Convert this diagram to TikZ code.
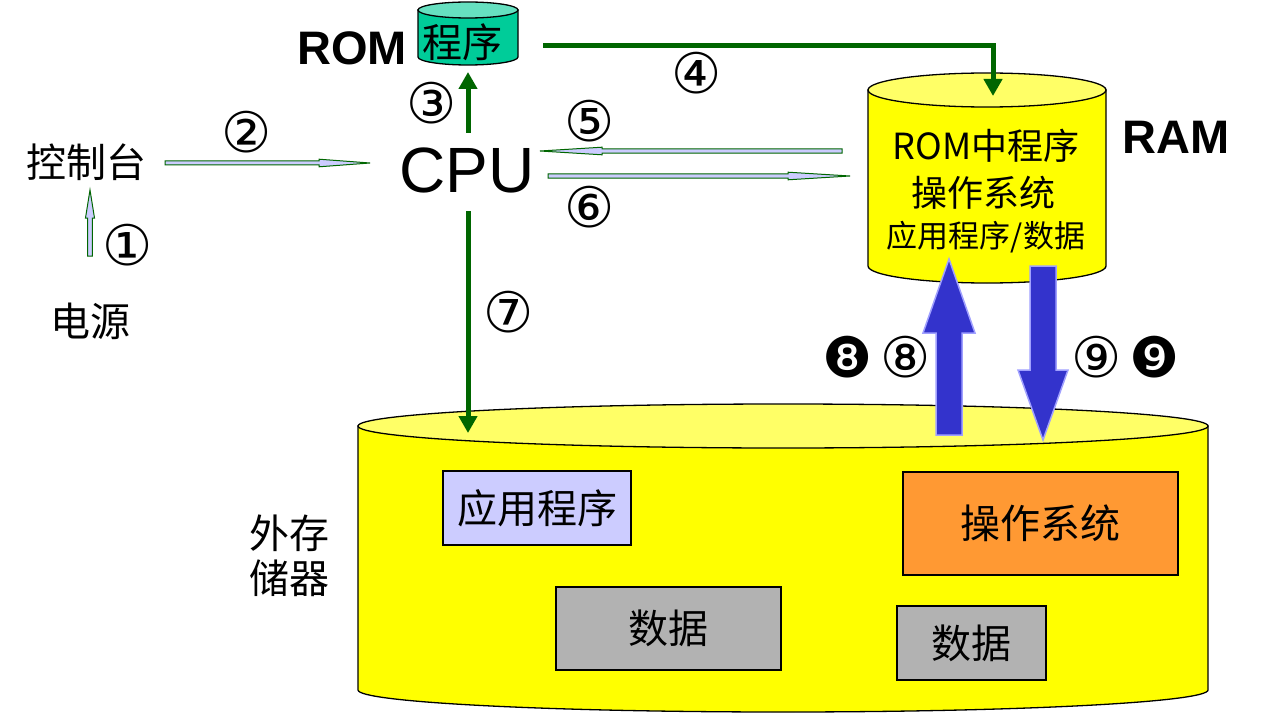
\documentclass[tikz,border=0pt]{standalone}
\usepackage{fontspec}
\setmainfont{Liberation Sans}
\newfontfamily\cjk{Noto Sans CJK SC}
\newfontfamily\dv{DejaVu Sans}
\usetikzlibrary{arrows.meta,calc}
\definecolor{dkgreen}{HTML}{006600}
\definecolor{lav}{HTML}{CCCCFF}
\definecolor{arrblue}{HTML}{3333CC}
\definecolor{arrblueedge}{HTML}{A0A0FF}
\definecolor{romtop}{HTML}{66E0C0}
\definecolor{rombody}{HTML}{00CC99}
\definecolor{yeltop}{HTML}{FFFF66}
\definecolor{yelbody}{HTML}{FFFF00}
\definecolor{orangebox}{HTML}{FF9933}
\definecolor{greybox}{HTML}{B2B2B2}
\newcommand\polyarrow[6]{%
  \coordinate (pbB) at ($(#3)!#6!(#2)$);
  \path[#1] ($(#2)!#4!90:(#3)$) -- ($(pbB)!#4!90:(#3)$) -- ($(pbB)!#5!90:(#3)$) -- (#3)
    -- ($(pbB)!#5!-90:(#3)$) -- ($(pbB)!#4!-90:(#3)$) -- ($(#2)!#4!-90:(#3)$) -- cycle;
}
\tikzset{
  num/.style={font=\dv\fontsize{56}{56}\selectfont, inner sep=0pt},
  cn/.style={font=\cjk\fontsize{40}{40}\selectfont, inner sep=0pt},
  bigsans/.style={font=\bfseries\fontsize{47}{47}\selectfont, inner sep=0pt},
  gline/.style={draw=dkgreen, line width=5pt, -{Triangle[width=18pt,length=17pt]}},
  thinarr/.style={fill=lav, draw=dkgreen, line width=1pt},
  bluearr/.style={fill=arrblue, draw=arrblueedge, line width=1.5pt},
  cylbody/.style={draw=black, line width=1.3pt},
  membox/.style={draw=black, line width=2pt, inner sep=0pt},
}
\begin{document}
\begin{tikzpicture}[x=1pt,y=-1pt]
\useasboundingbox (0,0) rectangle (1265,714);
\fill[white] (0,0) rectangle (1265,714);

% ---- big external storage cylinder
\path[cylbody, fill=yelbody] (358,426) -- (358,690)
  arc[start angle=180,end angle=360,x radius=425pt,y radius=22pt] -- (1208,426) -- cycle;
\path[cylbody, fill=yeltop] (783,426) ellipse[x radius=425pt,y radius=22pt];

% ---- RAM cylinder
\path[cylbody, fill=yelbody] (868,90) -- (868,266)
  arc[start angle=180,end angle=360,x radius=119pt,y radius=17pt] -- (1106,90) -- cycle;
\path[cylbody, fill=yeltop] (987,90) ellipse[x radius=119pt,y radius=17pt];

% ---- ROM cylinder
\path[cylbody, fill=rombody] (418,10) -- (418,57)
  arc[start angle=180,end angle=360,x radius=50pt,y radius=8pt] -- (518,10) -- cycle;
\path[cylbody, fill=romtop] (468,10) ellipse[x radius=50pt,y radius=8pt];

% ---- texts
\node[cn] (romprog) at (462,42) {程序};
\node[bigsans] (romlabel) at (352,48) {ROM};
\node[bigsans] (ramlabel) at (1176,137) {RAM};
\node[font=\fontsize{64}{64}\selectfont, inner sep=0pt] (cpu) at (467,170) {CPU};
\node[cn] (console) at (86,162) {控制台};
\node[cn] (power) at (90,321) {电源};
\node[cn, font=\cjk\fontsize{36}{36}\selectfont] (ram1) at (986,146) {ROM中程序};
\node[cn, font=\cjk\fontsize{36}{36}\selectfont] (ram2) at (983,193) {操作系统};
\node[cn, font=\cjk\fontsize{31}{31}\selectfont] (ram3) at (986,237) {应用程序/数据};
\node[cn, align=left, font=\cjk\fontsize{40}{45}\selectfont] (ext) at (289,556) {外存\\储器};

% ---- boxes in external storage
\node[membox, fill=lav, minimum width=188pt, minimum height=74pt, cn] (app) at (537,508) {应用程序};
\node[membox, fill=orangebox, minimum width=275pt, minimum height=103pt, cn] (os) at (1040,523) {操作系统};
\node[membox, fill=greybox, minimum width=225pt, minimum height=83pt, cn] (data1) at (668,628) {数据};
\node[membox, fill=greybox, minimum width=149pt, minimum height=74pt, cn] (data2) at (971,643) {数据};

% ---- number labels
\node[num] (n1) at (128,245) {①};
\node[num] (n2) at (247,132) {②};
\node[num] (n3) at (432,103) {③};
\node[num] (n4) at (697,73) {④};
\node[num] (n5) at (590,121) {⑤};
\node[num] (n6) at (590,207) {⑥};
\node[num] (n7) at (509,312) {⑦};
\node[num] (n8a) at (848,357) {❽};
\node[num] (n8b) at (906,357) {⑧};
\node[num] (n9a) at (1097,357) {⑨};
\node[num] (n9b) at (1155,357) {❾};

% ---- connector end points
\coordinate (a1s) at (90,256);  \coordinate (a1e) at (90,190);
\coordinate (a2s) at (165,163); \coordinate (a2e) at (370,163);
\coordinate (a5s) at (842,151); \coordinate (a5e) at (540,151);
\coordinate (a6s) at (548,176); \coordinate (a6e) at (850,176);
\coordinate (a3s) at (468,133); \coordinate (a3e) at (468,72);
\coordinate (a4s) at (543,46);  \coordinate (a4e) at (993,96);
\coordinate (a7s) at (468,211); \coordinate (a7e) at (468,433);
\coordinate (a8s) at (949,435); \coordinate (a8e) at (949,259);
\coordinate (a9s) at (1043,266); \coordinate (a9e) at (1043,440);

% ---- thin arrows
\polyarrow{thinarr}{a1s}{a1e}{2.3pt}{4.5pt}{28pt}
\polyarrow{thinarr}{a2s}{a2e}{2pt}{3.8pt}{51pt}
\polyarrow{thinarr}{a5s}{a5e}{2.2pt}{3.8pt}{62pt}
\polyarrow{thinarr}{a6s}{a6e}{2.2pt}{3.8pt}{62pt}

% ---- green arrows
\draw[gline] (a3s) -- (a3e);
\draw[gline] (a4s) -| (a4e);
\draw[gline] (a7s) -- (a7e);

% ---- blue transfer arrows
\polyarrow{bluearr}{a8s}{a8e}{13pt}{26pt}{74pt}
\polyarrow{bluearr}{a9s}{a9e}{13pt}{25pt}{70pt}
\end{tikzpicture}
\end{document}
